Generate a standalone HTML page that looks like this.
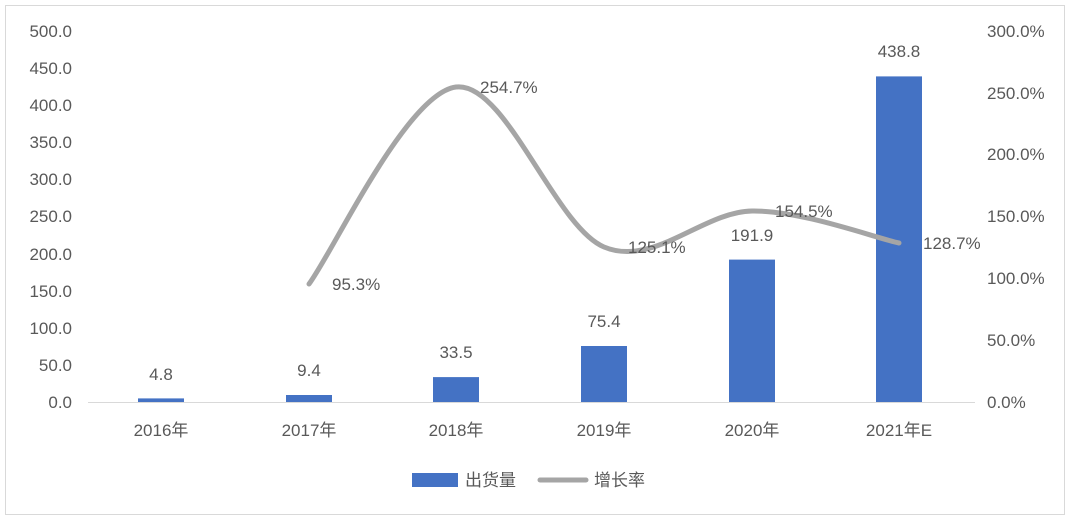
<!DOCTYPE html>
<html><head><meta charset="utf-8"><style>
body{margin:0;background:#fff;}
svg text{font-family:"Liberation Sans","Noto Sans CJK SC",sans-serif;fill:#595959;font-size:17px;}
</style></head><body>
<svg width="1070" height="519" xmlns="http://www.w3.org/2000/svg">
<rect x="5.5" y="5.5" width="1059" height="509" fill="#fff" stroke="#d9d9d9"/>
<g text-anchor="end">
<text x="72" y="408">0.0</text>
<text x="72" y="371">50.0</text>
<text x="72" y="334">100.0</text>
<text x="72" y="297">150.0</text>
<text x="72" y="260">200.0</text>
<text x="72" y="222">250.0</text>
<text x="72" y="185">300.0</text>
<text x="72" y="148">350.0</text>
<text x="72" y="111">400.0</text>
<text x="72" y="74">450.0</text>
<text x="72" y="37">500.0</text>
</g>
<g text-anchor="start">
<text x="987" y="408">0.0%</text>
<text x="987" y="346">50.0%</text>
<text x="987" y="284">100.0%</text>
<text x="987" y="222">150.0%</text>
<text x="987" y="160">200.0%</text>
<text x="987" y="99">250.0%</text>
<text x="987" y="37">300.0%</text>
</g>
<line x1="88" y1="402.5" x2="975" y2="402.5" stroke="#d9d9d9"/>
<g fill="#4472c4">
<rect x="138" y="398.4" width="46" height="3.6"/>
<rect x="286" y="395" width="46" height="7"/>
<rect x="433" y="377.1" width="46" height="24.9"/>
<rect x="581" y="346" width="46" height="56"/>
<rect x="729" y="259.6" width="46" height="142.4"/>
<rect x="876" y="76.4" width="46" height="325.6"/>
</g>
<g text-anchor="middle">
<text x="161" y="380">4.8</text>
<text x="309" y="376">9.4</text>
<text x="456" y="358">33.5</text>
<text x="604" y="327">75.4</text>
<text x="752" y="241">191.9</text>
<text x="899" y="57">438.8</text>
<text x="161" y="436">2016年</text>
<text x="309" y="436">2017年</text>
<text x="456" y="436">2018年</text>
<text x="604" y="436">2019年</text>
<text x="752" y="436">2020年</text>
<text x="899" y="436">2021年E</text>
</g>
<path d="M309,284 C333.5,251.2 406.8,93.2 456,87 C505.2,80.8 554.7,226.3 604,247 C653.3,267.7 702.8,211.7 752,211 C801.2,210.3 874.5,237.7 899,243" fill="none" stroke="#a5a5a5" stroke-width="5" stroke-linecap="round"/>
<g text-anchor="start">
<text x="332" y="290">95.3%</text>
<text x="480" y="93">254.7%</text>
<text x="628" y="253">125.1%</text>
<text x="775" y="217">154.5%</text>
<text x="923" y="249">128.7%</text>
</g>
<rect x="412" y="473" width="46" height="14" fill="#4472c4"/>
<text x="465" y="486">出货量</text>
<line x1="540" y1="480" x2="586" y2="480" stroke="#a5a5a5" stroke-width="5" stroke-linecap="round"/>
<text x="594" y="486">增长率</text>
</svg>
</body></html>
